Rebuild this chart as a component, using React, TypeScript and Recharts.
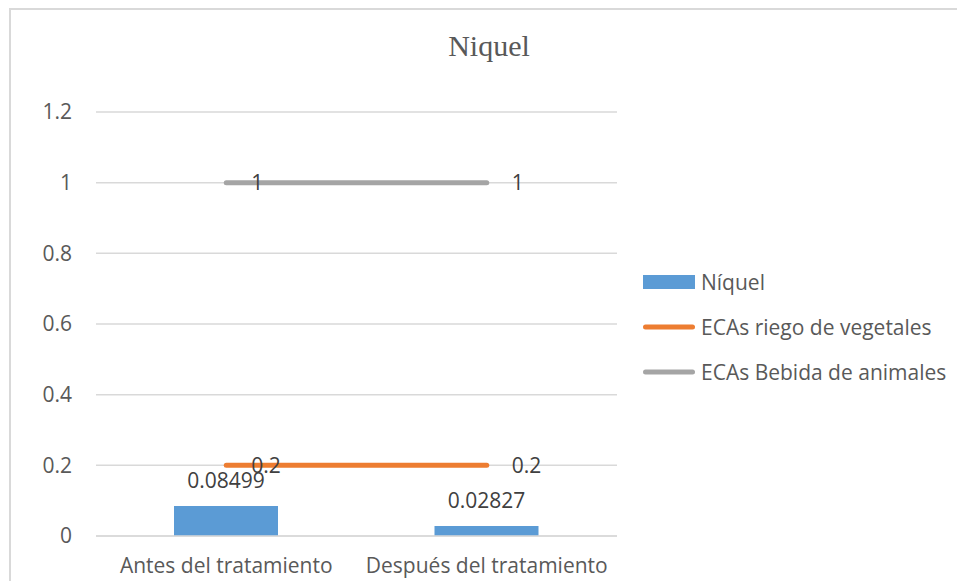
import React from 'react';
import { ComposedChart, Bar, Line, XAxis, YAxis, CartesianGrid, LabelList } from 'recharts';

const title = 'Niquel';
const categories = ['Antes del tratamiento', 'Después del tratamiento'];
const niquel = [0.08499, 0.02827];
const ecasRiego = [0.2, 0.2];
const ecasBebida = [1, 1];
const yTicks = [0, 0.2, 0.4, 0.6, 0.8, 1, 1.2];
const seriesNames = ['Níquel', 'ECAs riego de vegetales', 'ECAs Bebida de animales'];

const BLUE = '#5B9BD5';
const ORANGE = '#ED7D31';
const GRAY = '#A5A5A5';
const TEXT = '#595959';
const LABEL = '#404040';
const GRID = '#D9D9D9';
const FONT = '"Open Sans", "Noto Sans", sans-serif';

const data = categories.map((c, i) => ({
  cat: c,
  niquel: niquel[i],
  riego: ecasRiego[i],
  bebida: ecasBebida[i],
}));

const legendItems = [
  { name: seriesNames[0], color: BLUE, type: 'rect' },
  { name: seriesNames[1], color: ORANGE, type: 'line' },
  { name: seriesNames[2], color: GRAY, type: 'line' },
];

export default function App() {
  return (
    <div style={{ position: 'absolute', left: 0, top: 0, width: 957, height: 581, background: '#fff', overflow: 'hidden' }}>
      <div
        style={{
          position: 'absolute',
          left: 9,
          top: 8,
          width: 1000,
          height: 700,
          borderTop: `2px solid ${GRID}`,
          borderLeft: `2px solid ${GRID}`,
        }}
      />
      <div
        style={{
          position: 'absolute',
          left: 389,
          width: 200,
          top: 28,
          textAlign: 'center',
          fontFamily: '"Liberation Serif", "Times New Roman", serif',
          fontSize: 30,
          lineHeight: '36px',
          color: TEXT,
        }}
      >
        {title}
      </div>
      <div style={{ position: 'absolute', left: 0, top: 0 }}>
        <ComposedChart
          width={957}
          height={581}
          data={data}
          margin={{ top: 112, right: 340, bottom: 0, left: 0 }}
          barCategoryGap="30%"
        >
          <CartesianGrid vertical={false} stroke={GRID} strokeWidth={1.5} />
          <XAxis
            dataKey="cat"
            height={45}
            axisLine={{ stroke: GRID, strokeWidth: 1.5 }}
            tickLine={false}
            tickSize={0}
            tickMargin={22}
            tick={{ fill: TEXT, fontSize: 21, fontFamily: FONT }}
            interval={0}
          />
          <YAxis
            width={96}
            domain={[0, 1.2]}
            ticks={yTicks}
            axisLine={false}
            tickLine={false}
            tickSize={0}
            tickMargin={24}
            tick={{ fill: TEXT, fontSize: 21, fontFamily: FONT }}
          />
          <Bar dataKey="niquel" fill={BLUE} barSize={104} isAnimationActive={false}>
            <LabelList dataKey="niquel" position="top" offset={18} fill={LABEL} fontSize={21} fontFamily={FONT} />
          </Bar>
          <Line
            dataKey="riego"
            stroke={ORANGE}
            strokeWidth={5}
            strokeLinecap="round"
            dot={false}
            activeDot={false}
            isAnimationActive={false}
          >
            <LabelList dataKey="riego" position="right" offset={25} fill={LABEL} fontSize={21} fontFamily={FONT} />
          </Line>
          <Line
            dataKey="bebida"
            stroke={GRAY}
            strokeWidth={5}
            strokeLinecap="round"
            dot={false}
            activeDot={false}
            isAnimationActive={false}
          >
            <LabelList dataKey="bebida" position="right" offset={25} fill={LABEL} fontSize={21} fontFamily={FONT} />
          </Line>
        </ComposedChart>
      </div>
      <div style={{ position: 'absolute', left: 643, top: 267, fontFamily: FONT, fontSize: 21, color: TEXT }}>
        {legendItems.map((it) => (
          <div key={it.name} style={{ display: 'flex', alignItems: 'center', height: 30, marginBottom: 15, whiteSpace: 'nowrap' }}>
            <svg width={56} height={30} style={{ display: 'block' }}>
              {it.type === 'rect' ? (
                <rect x={0} y={8} width={52} height={14} fill={it.color} />
              ) : (
                <line x1={2.5} y1={15} x2={49.5} y2={15} stroke={it.color} strokeWidth={5} strokeLinecap="round" />
              )}
            </svg>
            <span style={{ marginLeft: 2 }}>{it.name}</span>
          </div>
        ))}
      </div>
    </div>
  );
}
